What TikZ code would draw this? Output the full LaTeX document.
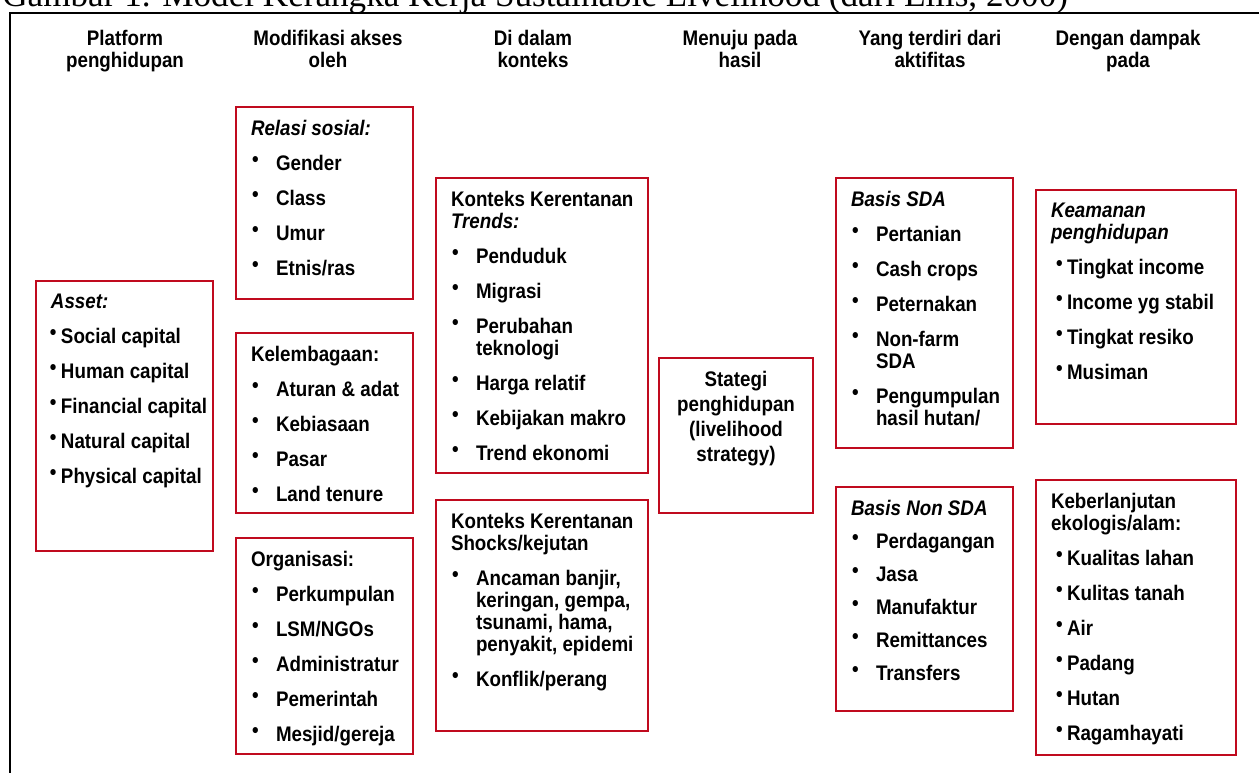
\documentclass[tikz,border=0pt]{standalone}
\usepackage{fontspec}
\setmainfont[FakeStretch=0.89]{Liberation Sans}
\newfontfamily\judul{Liberation Serif}
\usetikzlibrary{positioning}
\definecolor{merah}{RGB}{192,10,30}
\newlength{\pix}
\setlength{\pix}{0.02cm}
% isi kotak: lebar, tinggi, teks
\newcommand{\isi}[3]{\parbox[c][#2\pix][t]{#1\pix}{\raggedright\leftskip=10\pix
  \bfseries\fontsize{12pt}{0.44cm}\selectfont\parskip=13\pix #3}}
% butir dengan indent lebar
\newcommand{\poin}[1]{\par\noindent\hangindent=25\pix\hangafter=1%
  \makebox[25\pix][l]{\hspace{1\pix}\raisebox{4\pix}{\textbullet}}#1}
% butir rapat (asset)
\newcommand{\poinA}[1]{\par\noindent\hangindent=10\pix\hangafter=1%
  \makebox[10\pix][l]{\hspace{-1\pix}\raisebox{4\pix}{\textbullet}}#1}
% butir kolom dampak
\newcommand{\poinB}[1]{\par\noindent\hangindent=16\pix\hangafter=1%
  \makebox[16\pix][l]{\hspace{5\pix}\raisebox{4\pix}{\textbullet}}#1}

\begin{document}
\begin{tikzpicture}[x=0.02cm, y=-0.02cm,
    kotak/.style={draw=merah, line width=2\pix, anchor=north west, inner xsep=5\pix, inner ysep=13\pix},
    kepala/.style={anchor=base, align=center, font=\bfseries\fontsize{12pt}{0.44cm}\selectfont}]
    \useasboundingbox (0,0) rectangle (1259,772);
    \clip (0,0) rectangle (1259,772);

    % judul (terpotong di atas)
    \node[anchor=base west, inner sep=0, font=\judul\fontsize{20pt}{24pt}\selectfont] (judul) at (2,6)
        {Gambar 1. Model Kerangka Kerja Sustainable Livelihood (dari Ellis, 2000)};
    \draw[line width=2.5\pix] (10,800) |- (1300,13);

    % kepala kolom
    \node[kepala] (kol1) at (125,67) {Platform\\penghidupan};
    \node[kepala] (kol2) at (328,67) {Modifikasi akses\\oleh};
    \node[kepala] (kol3) at (533,67) {Di dalam\\konteks};
    \node[kepala] (kol4) at (740,67) {Menuju pada\\hasil};
    \node[kepala] (kol5) at (930,67) {Yang terdiri dari\\aktifitas};
    \node[kepala] (kol6) at (1128,67) {Dengan dampak\\pada};

    % platform
    \node[kotak] (asset) at (35,280) {\isi{167}{244}{\textit{Asset:}
        \poinA{Social capital}\poinA{Human capital}\poinA{Financial capital}
        \poinA{Natural capital}\poinA{Physical capital}}};

    % akses
    \node[kotak] (relasi) at (235,106) {\isi{167}{166}{\textit{Relasi sosial:}
        \poin{Gender}\poin{Class}\poin{Umur}\poin{Etnis/ras}}};
    \node[kotak] (lembaga) at (235,332) {\isi{167}{154}{Kelembagaan:
        \poin{Aturan \& adat}\poin{Kebiasaan}\poin{Pasar}\poin{Land tenure}}};
    \node[kotak] (organisasi) at (235,537) {\isi{167}{190}{Organisasi:
        \poin{Perkumpulan}\poin{LSM/NGOs}\poin{Administratur}\poin{Pemerintah}\poin{Mesjid/gereja}}};

    % konteks
    \node[kotak] (trends) at (435,177) {\isi{202}{269}{Konteks Kerentanan\\\textit{Trends:}
        \poin{Penduduk}\poin{Migrasi}\poin{Perubahan\newline teknologi}\poin{Harga relatif}
        \poin{Kebijakan makro}\poin{Trend ekonomi}}};
    \node[kotak] (shocks) at (435,499) {\isi{202}{205}{Konteks Kerentanan\\Shocks/kejutan
        \poin{Ancaman banjir,\newline keringan, gempa,\newline tsunami, hama,\newline penyakit, epidemi}
        \poin{Konflik/perang}}};

    % hasil
    \node[kotak] (strategi) at (658,357) {\isi{144}{129}{\baselineskip=25\pix
        \centering Stategi\\penghidupan\\(livelihood\\strategy)}};

    % aktifitas
    \node[kotak] (sda) at (835,177) {\isi{167}{244}{\textit{Basis SDA}
        \poin{Pertanian}\poin{Cash crops}\poin{Peternakan}\poin{Non-farm\newline SDA}
        \poin{Pengumpulan\newline hasil hutan/}}};
    \node[kotak] (nonsda) at (835,486) {\isi{167}{198}{\parskip=11\pix\textit{Basis Non SDA}
        \poin{Perdagangan}\poin{Jasa}\poin{Manufaktur}\poin{Remittances}\poin{Transfers}}};

    % dampak
    \node[kotak] (keamanan) at (1035,189) {\isi{190}{208}{\textit{Keamanan\\penghidupan}
        \poinB{Tingkat income}\poinB{Income yg stabil}\poinB{Tingkat resiko}\poinB{Musiman}}};
    \node[kotak] (ekologi) at (1035,479) {\isi{190}{249}{Keberlanjutan\\ekologis/alam:
        \poinB{Kualitas lahan}\poinB{Kulitas tanah}\poinB{Air}\poinB{Padang}
        \poinB{Hutan}\poinB{Ragamhayati}}};
\end{tikzpicture}
\end{document}
